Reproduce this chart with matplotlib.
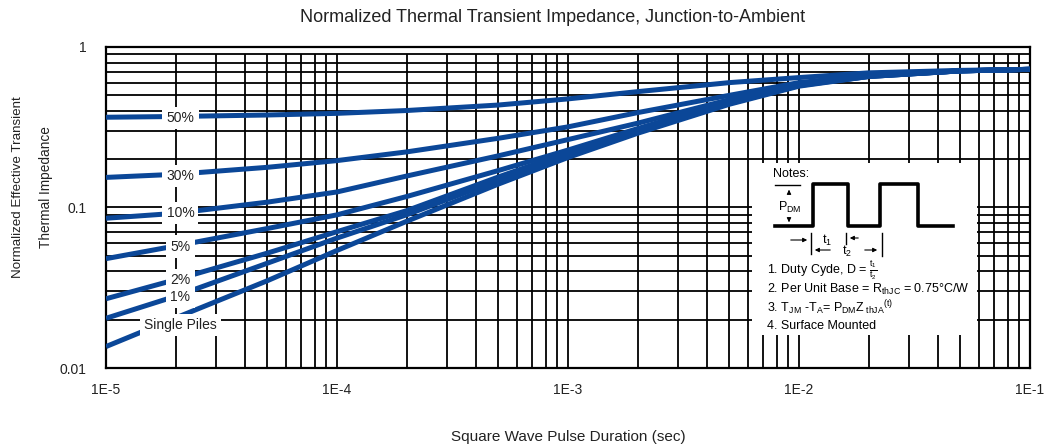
import matplotlib
matplotlib.use("Agg")
import matplotlib.pyplot as plt
from matplotlib.ticker import NullFormatter, LogLocator
import numpy as np

plt.rcParams['font.family'] = ['Liberation Sans', 'DejaVu Sans']
plt.rcParams['mathtext.fontset'] = 'custom'
plt.rcParams['mathtext.rm'] = 'Liberation Sans'
plt.rcParams['mathtext.it'] = 'Liberation Sans:italic'

# Duración del pulso (s)
duracion = [1e-5, 2e-5, 5e-5, 1e-4, 2e-4, 5e-4, 1e-3, 2e-3, 5e-3, 1e-2, 2e-2, 5e-2, 1e-1]

# Impedancia normalizada por ciclo de trabajo
z_50 = [0.365, 0.369, 0.377, 0.386, 0.402, 0.435, 0.475, 0.527, 0.60, 0.645, 0.69, 0.715, 0.726]
z_30 = [0.154, 0.161, 0.178, 0.196, 0.222, 0.27, 0.318, 0.39, 0.50, 0.60, 0.665, 0.71, 0.726]
z_10 = [0.0857, 0.092, 0.108, 0.125, 0.157, 0.21, 0.265, 0.335, 0.47, 0.59, 0.66, 0.71, 0.726]
z_5 = [0.048, 0.0576, 0.074, 0.090, 0.117, 0.17, 0.228, 0.31, 0.46, 0.58, 0.66, 0.71, 0.726]
z_2 = [0.027, 0.0355, 0.052, 0.0707, 0.0955, 0.155, 0.220, 0.30, 0.45, 0.58, 0.655, 0.71, 0.726]
z_1 = [0.0204, 0.028, 0.045, 0.0645, 0.090, 0.148, 0.212, 0.295, 0.445, 0.575, 0.655, 0.71, 0.726]
z_single = [0.0136, 0.0205, 0.035, 0.054, 0.082, 0.140, 0.205, 0.29, 0.44, 0.57, 0.655, 0.71, 0.726]

curvas = [z_50, z_30, z_10, z_5, z_2, z_1, z_single]
etiquetas = ["50%", "30%", "10%", "5%", "2%", "1%", "Single Piles"]
etiqueta_y = [0.361, 0.157, 0.0924, 0.0571, 0.0353, 0.0277, 0.0185]
etiqueta_x = 2.1e-5

azul = "#0b4798"

fig = plt.figure(figsize=(10.47, 4.44), dpi=100)
ax = fig.add_axes([106 / 1047, 1 - 368 / 444, 924 / 1047, 321 / 444])

for z in curvas:
    ax.plot(duracion, z, color=azul, lw=3.6, solid_capstyle='butt', zorder=3)

for texto, y in zip(etiquetas, etiqueta_y):
    ax.text(etiqueta_x, y, texto, fontsize=10, ha='center', va='center', color='#222222',
            zorder=5, bbox=dict(facecolor='white', edgecolor='none', pad=3))

ax.set_xscale("log")
ax.set_yscale("log")
ax.set_xlim(1e-5, 1e-1)
ax.set_ylim(0.01, 1)
ax.set_axisbelow(True)

ax.set_xticks([1e-5, 1e-4, 1e-3, 1e-2, 1e-1])
ax.set_xticklabels(["1E-5", "1E-4", "1E-3", "1E-2", "1E-1"])
ax.set_yticks([0.01, 0.1, 1])
ax.set_yticklabels(["0.01", "0.1", "1"])
ax.yaxis.set_minor_locator(LogLocator(base=10, subs=np.arange(2, 10)))
ax.yaxis.set_minor_formatter(NullFormatter())
ax.xaxis.set_minor_formatter(NullFormatter())

# Cuadrícula: horizontales completas, verticales hasta 0.9
ax.grid(True, which="both", axis='y', color="black", linewidth=1.3)
verticales = [m * 10.0 ** e for e in range(-5, -1) for m in range(1, 10)][1:]
ax.vlines(verticales, 0.01, 0.9, color="black", linewidth=1.3, zorder=0.5)

ax.tick_params(which="both", length=0, labelsize=10, colors='#222222')
ax.tick_params(axis='x', pad=11)
ax.tick_params(axis='y', pad=14)
for s in ax.spines.values():
    s.set_linewidth(1.6)

fig.text(553 / 1047, 1 - 18 / 444, "Normalized Thermal Transient Impedance, Junction-to-Ambient",
         ha='center', va='center', fontsize=13, color='#222222')
fig.text(568 / 1047, 1 - 437 / 444, "Square Wave Pulse Duration (sec)",
         ha='center', va='center', fontsize=11, color='#222222')
fig.text(18 / 1047, 1 - 187 / 444, "Normalized Effective Transient", rotation=90,
         ha='center', va='center', fontsize=9.6, color='#222222')
fig.text(46 / 1047, 1 - 187 / 444, "Thermal Impedance", rotation=90,
         ha='center', va='center', fontsize=9.8, color='#222222')

# Recuadro de notas (coordenadas en pixeles)
nx0, nx1, ny0, ny1 = 752, 977, 163, 335
an = fig.add_axes([nx0 / 1047, 1 - ny1 / 444, (nx1 - nx0) / 1047, (ny1 - ny0) / 444])
an.set_xlim(nx0, nx1)
an.set_ylim(ny1, ny0)
an.set_facecolor('white')
an.set_xticks([])
an.set_yticks([])
for s in an.spines.values():
    s.set_visible(False)

fs = 9
an.text(773, 174, "Notes:", fontsize=fs, va='center', ha='left')
an.plot([775, 813, 813, 848, 848, 880, 880, 918, 918, 953],
        [226, 226, 184, 184, 226, 226, 184, 184, 226, 226], color='black', lw=2.6)
an.plot([775, 800], [185, 185], color='black', lw=1)
flecha = dict(arrowstyle='-|>', color='black', lw=0.8, mutation_scale=6)
an.annotate("", xy=(789, 187), xytext=(789, 195), arrowprops=flecha)
an.annotate("", xy=(789, 225), xytext=(789, 217), arrowprops=flecha)
an.text(778, 207, r"P$_\mathrm{DM}$", fontsize=fs, va='center', ha='left')
an.annotate("", xy=(810, 240), xytext=(788, 240), arrowprops=flecha)
an.plot([811, 811], [233, 254], color='black', lw=1)
an.text(827, 240, r"t$_\mathrm{1}$", fontsize=fs, va='center', ha='center')
an.plot([846, 846], [233, 244], color='black', lw=1)
an.annotate("", xy=(847, 238), xytext=(861, 238), arrowprops=flecha)
an.annotate("", xy=(812, 250), xytext=(833, 250), arrowprops=flecha)
an.text(847, 251, r"t$_\mathrm{2}$", fontsize=fs, va='center', ha='center')
an.annotate("", xy=(880, 250), xytext=(862, 250), arrowprops=flecha)
an.plot([882, 882], [233, 256], color='black', lw=1)

an.text(767, 270, r"1. Duty Cyde, D = $\frac{\mathrm{t_1}}{\mathrm{t_2}}$", fontsize=fs, va='center', ha='left')
an.text(767, 289, r"2. Per Unit Base = R$_\mathrm{thJC}$ = 0.75°C/W", fontsize=fs, va='center', ha='left')
an.text(767, 308, r"3. T$_\mathrm{JM}$ -T$_\mathrm{A}$= P$_\mathrm{DM}$Z$_\mathrm{\ thJA}$$^\mathrm{(t)}$",
        fontsize=fs, va='center', ha='left')
an.text(767, 326, "4. Surface Mounted", fontsize=fs, va='center', ha='left')

fig.savefig("out.png", dpi=100)
